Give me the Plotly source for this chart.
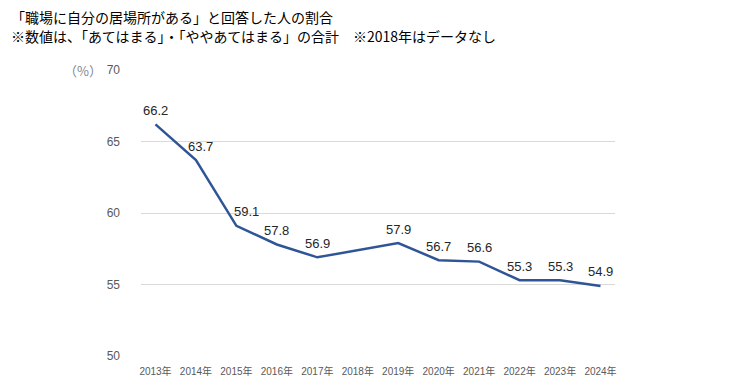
import plotly.graph_objects as go

categories = ["2013年", "2014年", "2015年", "2016年", "2017年", "2018年",
              "2019年", "2020年", "2021年", "2022年", "2023年", "2024年"]
values = [66.2, 63.7, 59.1, 57.8, 56.9, None, 57.9, 56.7, 56.6, 55.3, 55.3, 54.9]
y_ticks = [50, 55, 60, 65, 70]

# label nudges (pixels) to keep labels clear of the steep line segments
label_xshift = [0, 5, 10, 0, 0, 0, 0, 0, 0, 0, 0, 0]

title_lines = ["「職場に自分の居場所がある」と回答した人の割合",
               "※数値は、「あてはまる」・「ややあてはまる」の合計　※2018年はデータなし"]
unit_text = "（%）"

FONT = "Liberation Sans, Noto Sans CJK JP, sans-serif"
TFONT = "Noto Sans CJK JP, sans-serif"

fig = go.Figure()
fig.add_trace(go.Scatter(
    x=categories, y=values, mode="lines", connectgaps=True,
    line=dict(color="#2F5597", width=2.5), hoverinfo="skip",
))

for c, v, dx in zip(categories, values, label_xshift):
    if v is None:
        continue
    fig.add_annotation(x=c, y=v, text=f"{v:.1f}", showarrow=False,
                       xshift=dx, yshift=14,
                       font=dict(family=FONT, size=13, color="#262626"))

fig.add_annotation(xref="paper", yref="paper", x=0.0, y=1.0, xshift=-37,
                   text=unit_text, showarrow=False, xanchor="right", yanchor="middle",
                   font=dict(family=TFONT, size=13, color="#7F8795"))

title_shifts = [53, 34]
for line, ys in zip(title_lines, title_shifts):
    fig.add_annotation(xref="paper", yref="paper", x=0.0, y=1.0,
                       xshift=-132, yshift=ys,
                       text=line, showarrow=False, xanchor="left", yanchor="middle",
                       font=dict(family=TFONT, size=14, color="#000000"))

fig.update_layout(
    width=747, height=387,
    margin=dict(l=133, r=140, t=62, b=39, autoexpand=False),
    paper_bgcolor="white", plot_bgcolor="white",
    showlegend=False,
    xaxis=dict(type="category", categoryorder="array", categoryarray=categories,
               showgrid=False, showline=False, zeroline=False, ticks="",
               tickfont=dict(family=FONT, size=10, color="#595959"), ticklabelstandoff=8,
               automargin=False),
    yaxis=dict(range=[50, 70], tickvals=y_ticks, showgrid=True, gridcolor="#D9D9D9",
               gridwidth=1, zeroline=False, showline=False, ticks="",
               tickfont=dict(family=FONT, size=12, color="#595959"), ticklabelstandoff=20,
               automargin=False),
)

fig.write_html("out.html")
